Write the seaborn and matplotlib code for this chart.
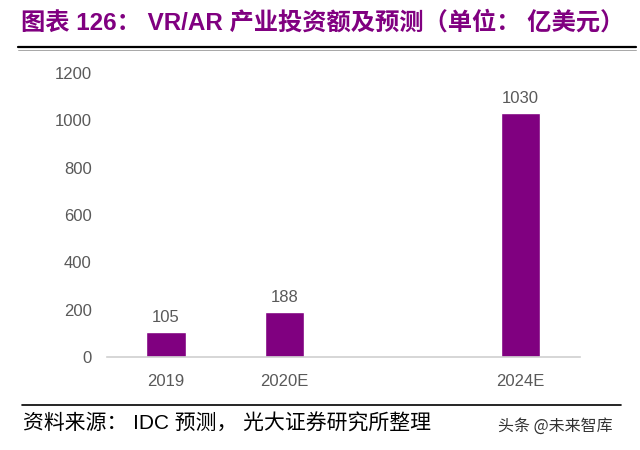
import matplotlib
matplotlib.use("Agg")
import matplotlib.pyplot as plt
from matplotlib.lines import Line2D
import seaborn as sns
import pandas as pd

# data
years = ["2019", "2020E", " ", "2024E"]
bar_years = ["2019", "2020E", "2024E"]
invest = [105, 188, 1030]
yticks = [0, 200, 400, 600, 800, 1000, 1200]

sns.set_theme(style="white")
plt.rcParams["font.family"] = ["Liberation Sans", "Noto Sans CJK SC", "DejaVu Sans"]

purple = "#800080"
grey = "#595959"

df = pd.DataFrame({"year": bar_years, "value": invest})

fig = plt.figure(figsize=(6.4, 4.5), dpi=100)
ax = fig.add_axes([0.167, 0.207, 0.739, 0.631])

sns.barplot(data=df, x="year", y="value", order=years, color=purple,
            width=0.33, saturation=1, errorbar=None, ax=ax)
ax.bar_label(ax.containers[0], fmt="%d", padding=5, fontsize=12, color=grey)

ax.set_ylim(0, 1200)
ax.set_yticks(yticks)
ax.set_xlim(-0.5, len(years) - 0.5)
ax.set_xlabel("")
ax.set_ylabel("")
ax.tick_params(axis="y", length=0, labelsize=12, labelcolor=grey, pad=11)
ax.tick_params(axis="x", which="major", length=0, labelsize=12, labelcolor=grey, pad=12)
ax.set_xticks([i - 0.5 for i in range(len(years) + 1)], minor=True)
ax.tick_params(axis="x", which="minor", length=4, color="#d0d0d0", width=1, direction="out")
for s in ["top", "right", "left"]:
    ax.spines[s].set_visible(False)
ax.spines["bottom"].set_color("#d0d0d0")
ax.spines["bottom"].set_linewidth(1.2)
ax.grid(False)

fig.text(0.033, 0.95, "图表 126： VR/AR 产业投资额及预测（单位： 亿美元）",
         fontsize=17.5, fontweight="bold", color=purple, va="center",
         family=["Liberation Sans", "Noto Sans CJK SC"])
fig.add_artist(Line2D([0.028, 0.994], [0.895, 0.895], color="black", lw=1.6))
fig.add_artist(Line2D([0.028, 0.994], [0.890, 0.890], color="#999999", lw=0.6))

fig.add_artist(Line2D([0.034, 0.97], [0.1, 0.1], color="black", lw=1.2))
fig.text(0.036, 0.058, "资料来源： IDC 预测， 光大证券研究所整理", fontsize=15,
         color="black", va="center", family=["Liberation Sans", "Noto Sans CJK SC"])
fig.text(0.778, 0.052, "头条 @未来智库", fontsize=11.5, color="#333333", va="center",
         family=["Noto Sans CJK SC", "DejaVu Sans"])

fig.savefig("out.png", dpi=100, facecolor="white")
